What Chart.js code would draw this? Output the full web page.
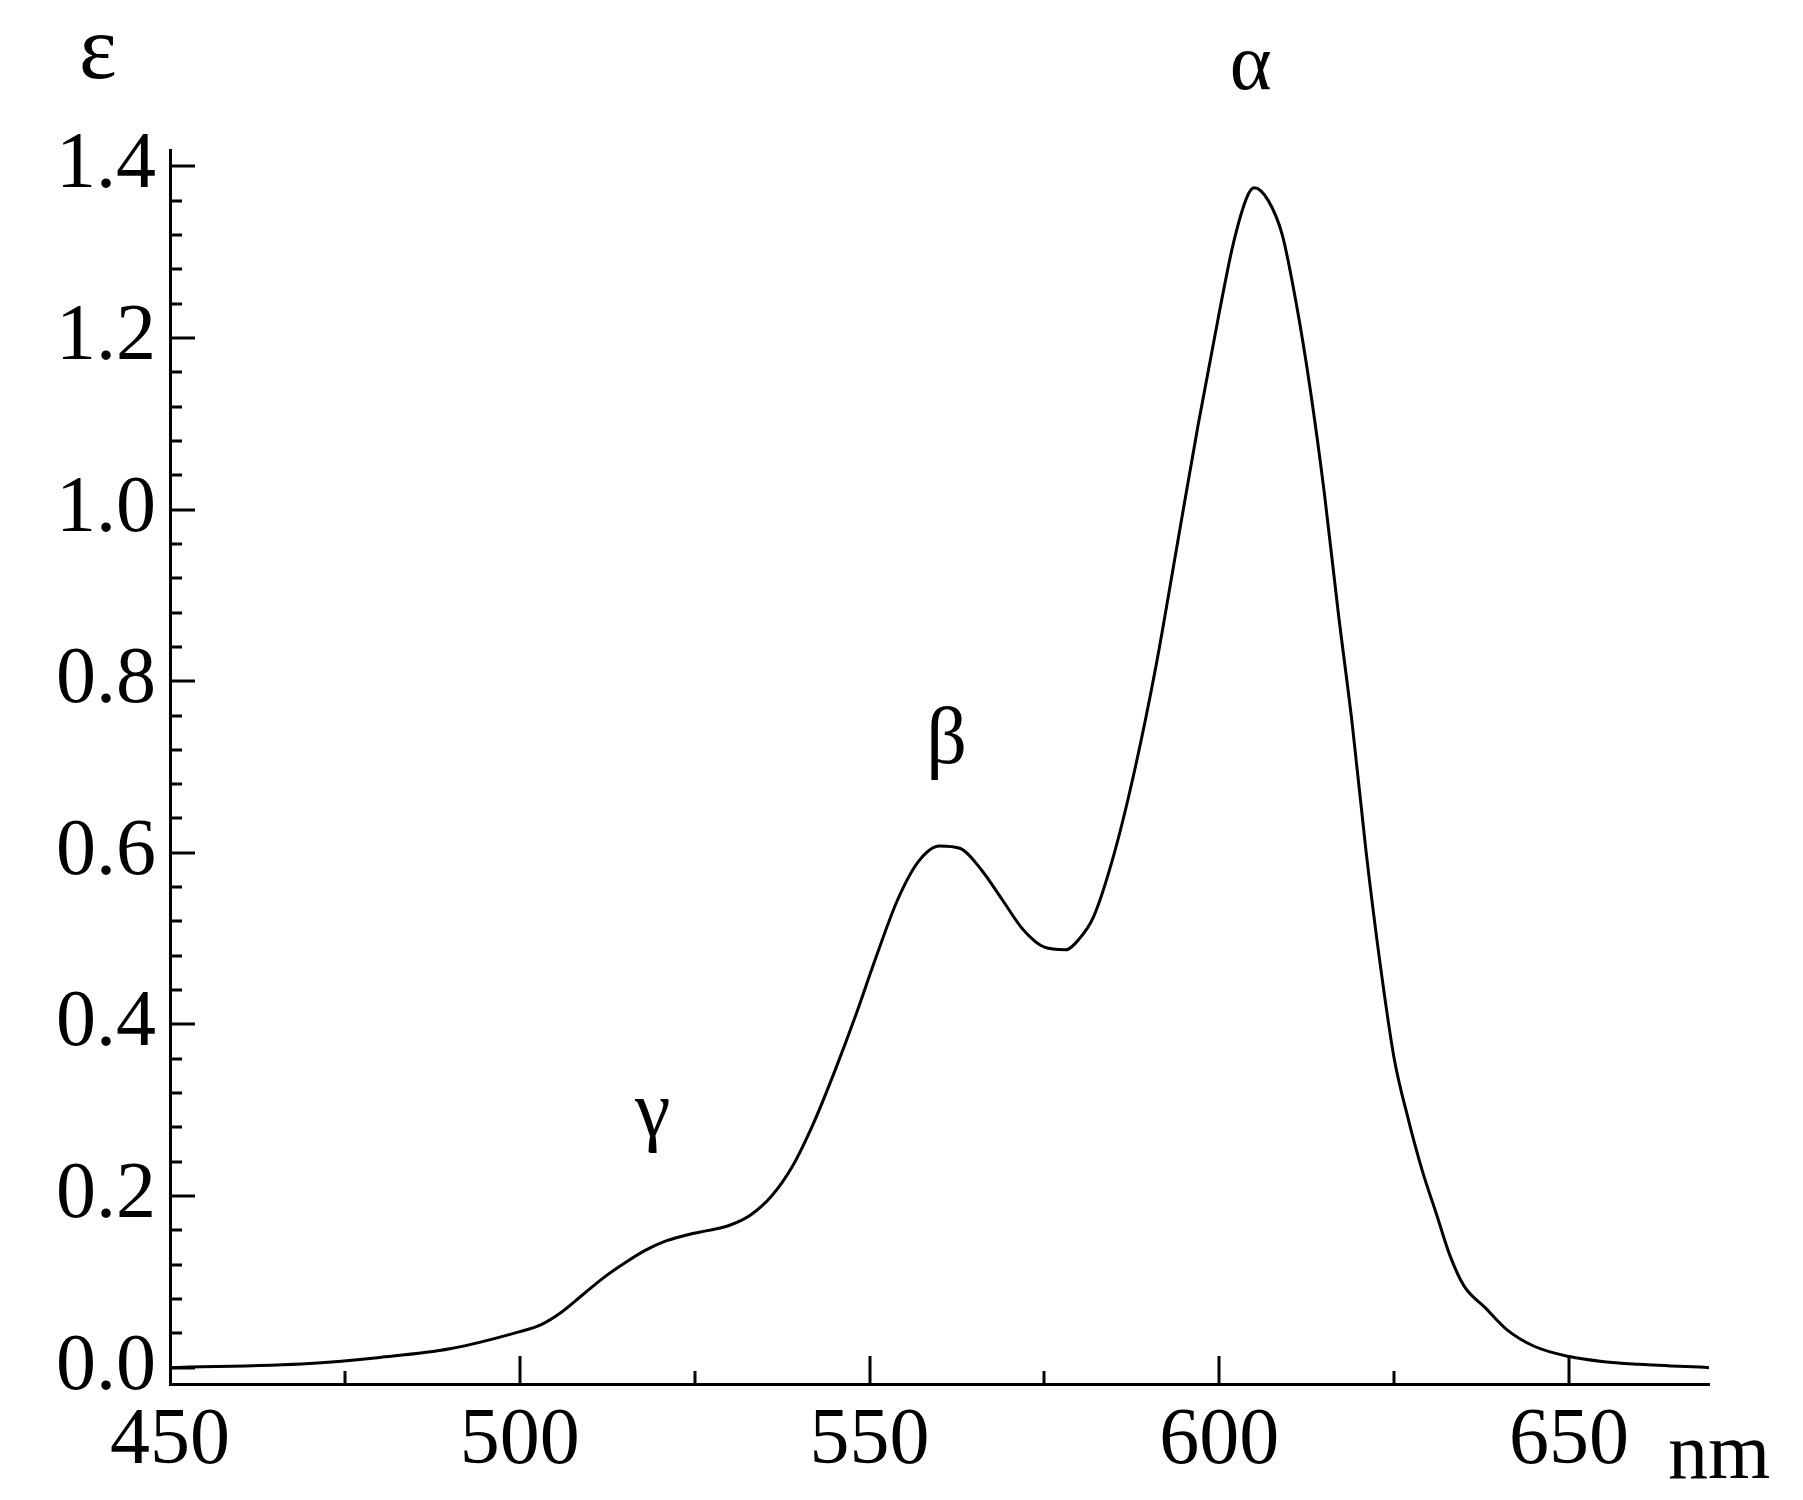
<!DOCTYPE html>
<html>
<head>
<meta charset="utf-8">
<script src="https://cdn.jsdelivr.net/npm/chart.js@4"></script>
<style>
  body { margin: 0; background: #fff; }
  #wrap { width: 1803px; height: 1500px; }
</style>
</head>
<body>
<div id="wrap"><canvas id="chart"></canvas></div>
<script>
const wavelengths = [450, 470, 480, 490, 500, 503, 506, 509, 512, 515, 518, 521, 524, 527, 530, 533, 536, 539, 542, 545, 548, 551, 554, 557, 560, 563, 566, 569, 572, 575, 578, 580, 582, 585, 588, 591, 594, 597, 600, 602, 604, 605, 607, 609, 611, 613, 615, 617, 619, 621, 623, 625, 627, 629, 631, 633, 635, 638, 641, 645, 650, 655, 660, 670];
const epsilon = [0.0, 0.005, 0.012, 0.022, 0.042, 0.05, 0.065, 0.085, 0.105, 0.122, 0.137, 0.148, 0.155, 0.16, 0.166, 0.178, 0.2, 0.235, 0.285, 0.345, 0.41, 0.48, 0.545, 0.59, 0.608, 0.605, 0.58, 0.545, 0.51, 0.49, 0.487, 0.5, 0.525, 0.6, 0.7, 0.82, 0.96, 1.1, 1.23, 1.31, 1.365, 1.375, 1.36, 1.32, 1.24, 1.14, 1.02, 0.88, 0.75, 0.6, 0.47, 0.36, 0.29, 0.23, 0.18, 0.13, 0.095, 0.07, 0.045, 0.025, 0.013, 0.007, 0.004, 0.0];
const xTicks = [450, 500, 550, 600, 650];
const yTicks = [0, 0.2, 0.4, 0.6, 0.8, 1.0, 1.2, 1.4];
const peakLabels = [
  { text: "α", x: 604.5, y: 1.49 },
  { text: "β", x: 561, y: 0.705 },
  { text: "γ", x: 519, y: 0.27 },
];

const serif = "'Liberation Serif', 'DejaVu Serif', serif";

// ticks drawn inward, plus the Greek labels and axis symbols
const decorations = {
  id: "decorations",
  afterDraw(chart) {
    const { ctx, chartArea: a, scales } = chart;
    const x = scales.x, y = scales.y;
    ctx.save();
    ctx.strokeStyle = "#000";
    ctx.lineWidth = 3;
    for (let v = 0; v <= 1.4001; v += 0.04) {
      const major = Math.abs(v / 0.2 - Math.round(v / 0.2)) < 1e-6;
      const py = Math.round(y.getPixelForValue(v));
      ctx.beginPath();
      ctx.moveTo(a.left, py);
      ctx.lineTo(a.left + (major ? 25 : 12), py);
      ctx.stroke();
    }
    for (let v = 475; v <= 670; v += 25) {
      const major = v % 50 === 0;
      const px = Math.round(x.getPixelForValue(v));
      ctx.beginPath();
      ctx.moveTo(px, a.bottom);
      ctx.lineTo(px, a.bottom - (major ? 28 : 13));
      ctx.stroke();
    }
    ctx.fillStyle = "#000";
    ctx.textAlign = "center";
    ctx.textBaseline = "alphabetic";
    ctx.font = "80px " + serif;
    peakLabels.forEach(p => {
      ctx.fillText(p.text, x.getPixelForValue(p.x), y.getPixelForValue(p.y));
    });
    ctx.font = "90px " + serif;
    ctx.fillText("ε", 98, 78);
    ctx.font = "80px " + serif;
    ctx.textAlign = "left";
    ctx.fillText("nm", 1668, 1478);
    ctx.restore();
  },
};

new Chart(document.getElementById("chart"), {
  type: "line",
  data: {
    labels: wavelengths,
    datasets: [{
      data: wavelengths.map((w, i) => ({ x: w, y: epsilon[i] })),
      borderColor: "#000",
      borderWidth: 3,
      pointRadius: 0,
      cubicInterpolationMode: "monotone",
      fill: false,
    }],
  },
  options: {
    responsive: true,
    maintainAspectRatio: false,
    animation: false,
    layout: { padding: { left: 0, right: 94, top: 150, bottom: 0 } },
    plugins: { legend: { display: false }, tooltip: { enabled: false } },
    scales: {
      x: {
        type: "linear",
        min: 450,
        max: 670,
        afterBuildTicks: s => { s.ticks = xTicks.map(v => ({ value: v })); },
        afterFit: s => { s.height = 116; },
        grid: { display: false, drawTicks: false },
        border: { color: "#000", width: 3 },
        ticks: { color: "#000", font: { family: serif, size: 80 }, padding: 10, maxRotation: 0 },
      },
      y: {
        min: -0.019,
        max: 1.419,
        afterBuildTicks: s => { s.ticks = yTicks.map(v => ({ value: v })); },
        afterFit: s => { s.width = 170; },
        grid: { display: false, drawTicks: false },
        border: { color: "#000", width: 3 },
        ticks: { color: "#000", font: { family: serif, size: 80 }, padding: 14, callback: v => v.toFixed(1) },
      },
    },
  },
  plugins: [decorations],
});
</script>
</body>
</html>
